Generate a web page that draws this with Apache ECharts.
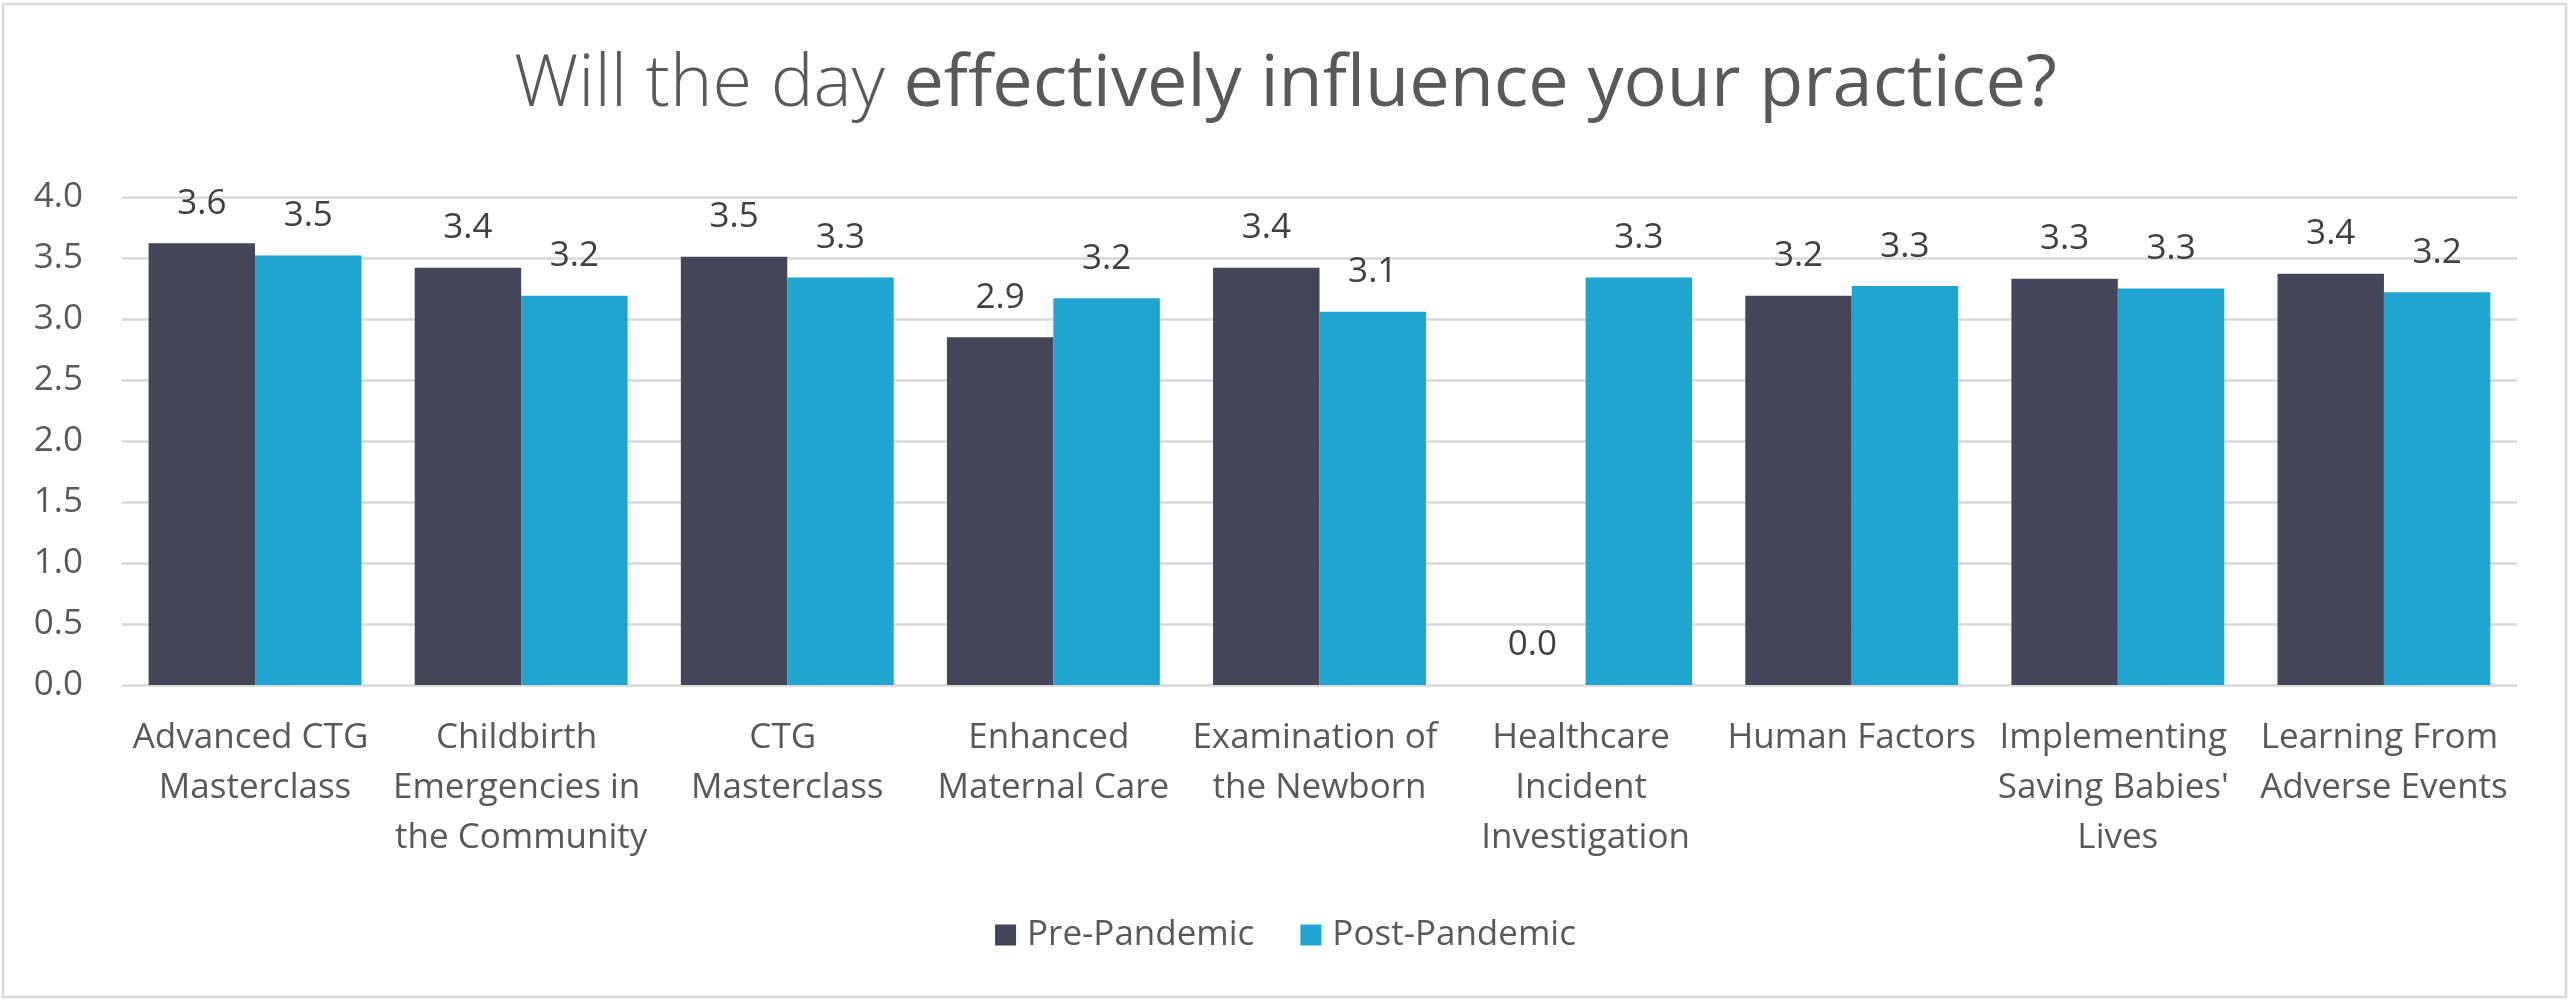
<!DOCTYPE html>
<html>
<head>
<meta charset="utf-8">
<title>Will the day effectively influence your practice?</title>
<script src="https://cdn.jsdelivr.net/npm/echarts@6/dist/echarts.min.js"></script>
<style>
  html, body { margin: 0; padding: 0; background: #fff; }
  #chart { width: 2571px; height: 1003px; }
</style>
</head>
<body>
<div id="chart"></div>
<script>
// categories (courses)
var courses = [
	'Advanced CTG Masterclass',
	'Childbirth Emergencies in the Community',
	'CTG Masterclass',
	'Enhanced Maternal Care',
	'Examination of the Newborn',
	'Healthcare Incident Investigation',
	'Human Factors',
	'Implementing Saving Babies\' Lives',
	'Learning From Adverse Events'
];
// average scores
var prePandemic = [3.62, 3.42, 3.51, 2.85, 3.42, 0, 3.19, 3.33, 3.37];
var postPandemic = [3.52, 3.19, 3.34, 3.17, 3.06, 3.34, 3.27, 3.25, 3.22];
var seriesNames = ['Pre-Pandemic', 'Post-Pandemic'];
var yTicks = {min: 0, max: 4, step: 0.5};

var font = '"Open Sans", "Noto Sans", sans-serif';
var axisGray = '#595959';
var gridGray = '#d9d9d9';

var chart = echarts.init(document.getElementById('chart'), null, {renderer: 'canvas'});

function barLabel() {
	return {
		show: true,
		position: 'top',
		distance: 22,
		fontFamily: font,
		fontSize: 35,
		color: '#404040',
		formatter: function(p) { return p.value.toFixed(1); }
	};
}

var option = {
	backgroundColor: '#fff',
	animation: false,
	title: {
		left: 'center',
		top: 40,
		text: '{a|Will the day }{b|effectively influence your practice?}',
		textStyle: {
			rich: {
				a: {fontFamily: font, fontSize: 72, fontWeight: 300, color: axisGray, lineHeight: 80},
				b: {fontFamily: font, fontSize: 72, fontWeight: 400, color: axisGray, lineHeight: 80}
			}
		}
	},
	legend: {
		data: seriesNames,
		left: 'center',
		top: 912,
		itemWidth: 21,
		itemHeight: 21,
		itemGap: 46,
		icon: 'rect',
		textStyle: {fontFamily: font, fontSize: 35, color: axisGray, lineHeight: 36, padding: [0, 0, 0, 6]}
	},
	grid: {left: 122, right: 54, top: 197, bottom: 318},
	xAxis: {
		type: 'category',
		data: courses,
		axisLine: {show: false},
		axisTick: {show: false},
		axisLabel: {
			interval: 0,
			margin: 28,
			width: 258,
			overflow: 'break',
			lineHeight: 50,
			fontFamily: font,
			fontSize: 35,
			color: axisGray
		}
	},
	yAxis: {
		type: 'value',
		min: yTicks.min,
		max: yTicks.max,
		interval: yTicks.step,
		axisLine: {show: false},
		axisTick: {show: false},
		splitLine: {lineStyle: {color: gridGray, width: 2.7}},
		axisLabel: {
			margin: 39,
			fontFamily: font,
			fontSize: 35,
			color: axisGray,
			formatter: function(v) { return v.toFixed(1); }
		}
	},
	series: [
		{
			name: seriesNames[0],
			type: 'bar',
			data: prePandemic,
			barGap: '0%',
			barCategoryGap: '20%',
			itemStyle: {color: '#45465a'},
			label: barLabel()
		},
		{
			name: seriesNames[1],
			type: 'bar',
			data: postPandemic,
			itemStyle: {color: '#20a5d0'},
			label: barLabel()
		}
	],
	graphic: [{
		type: 'rect',
		silent: true,
		shape: {x: 3, y: 4, width: 2563, height: 993},
		style: {fill: 'none', stroke: gridGray, lineWidth: 2.5}
	}]
};
chart.setOption(option);
</script>
</body>
</html>
